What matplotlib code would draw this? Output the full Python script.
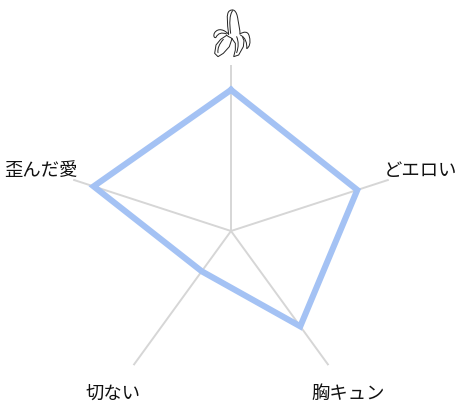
import numpy as np
import matplotlib
matplotlib.use('Agg')
import matplotlib.pyplot as plt
from matplotlib.path import Path
from matplotlib.patches import PathPatch

plt.rcParams['font.family'] = ['Noto Sans CJK JP', 'DejaVu Sans']

# categories clockwise from the top (the first one is the banana icon)
categories = ['', 'どエロい', '胸キュン', '切ない', '歪んだ愛']
values = [0.85, 0.80, 0.71, 0.30, 0.87]

W, H = 465, 407
fig = plt.figure(figsize=(W / 100, H / 100), dpi=100)

# centre of the radar at (231, 231) px, radius 166 px
ax = fig.add_axes([(231 - 166) / W, (H - 231 - 166) / H, 332 / W, 332 / H], projection='polar')
ax.set_theta_zero_location('N')
ax.set_theta_direction(-1)
ax.set_ylim(0, 1)
ax.axis('off')

angles = np.arange(len(categories)) * 2 * np.pi / len(categories)

# spokes
for a in angles:
    ax.plot([a, a], [0, 1], color='#d6d6d6', lw=1.4, solid_capstyle='butt', zorder=1)

# closed series line
ax.plot(np.append(angles, angles[0]), values + values[:1], color='#a4c2f4', lw=4.4,
        solid_joinstyle='miter', zorder=2, clip_on=False)

for a, c in zip(angles, categories):
    if c:
        # labels sit a touch lower than the angle centre, left ones a touch further out
        dx = -1 if np.sin(a) < 0 else 0
        ax.annotate(c, (a, 1.2), xytext=(dx, -1.5), textcoords='offset pixels', ha='center', va='center',
                    fontsize=13.2, color='#111111', annotation_clip=False)

# --- banana icon, drawn in its own little axes ---
icon = fig.add_axes([190 / W, (H - 100) / H, 80 / W, 100 / H])
icon.set_xlim(0, 240)
icon.set_ylim(300, 0)
icon.axis('off')
icon.patch.set_alpha(0)

M, L, C = Path.MOVETO, Path.LINETO, Path.CURVE4
strokes = [
    # stalk
    ([(116, 103), (112, 70), (108, 40), (118, 33), (128, 26), (140, 28), (144, 60), (147, 78), (150, 90), (150, 102)]),
    ([(122, 100), (118, 70), (118, 45), (128, 32)]),
    # left peel
    ([(116, 103), (105, 90), (85, 82), (74, 98), (68, 108), (74, 116), (78, 112), (84, 100), (95, 96), (110, 102)]),
    # right peel
    ([(150, 102), (160, 95), (175, 92), (178, 110), (183, 128), (178, 142), (170, 146), (172, 130), (166, 112), (152, 106)]),
    # body, left part
    ([(110, 106), (92, 118), (78, 135), (74, 160), (84, 170), (100, 160), (118, 140), (126, 116)]),
    ([(100, 118), (88, 132), (82, 145), (84, 158)]),
    # body, right part
    ([(126, 116), (136, 130), (136, 150), (131, 170), (146, 165), (160, 140), (162, 122), (158, 112)]),
    ([(110, 106), (118, 112), (122, 112), (126, 116)]),
    ([(140, 110), (146, 125), (146, 140), (140, 158)]),
]
for pts in strokes:
    codes = [M] + [C] * (len(pts) - 1)
    # the path needs 3n+1 points for cubic segments, otherwise pad as lines
    if (len(pts) - 1) % 3 != 0:
        codes = [M] + [L] * (len(pts) - 1)
    icon.add_patch(PathPatch(Path(pts, codes), fc='none', ec='#222222', lw=0.7, capstyle='round'))

fig.savefig('out.png', dpi=100, facecolor='white')
